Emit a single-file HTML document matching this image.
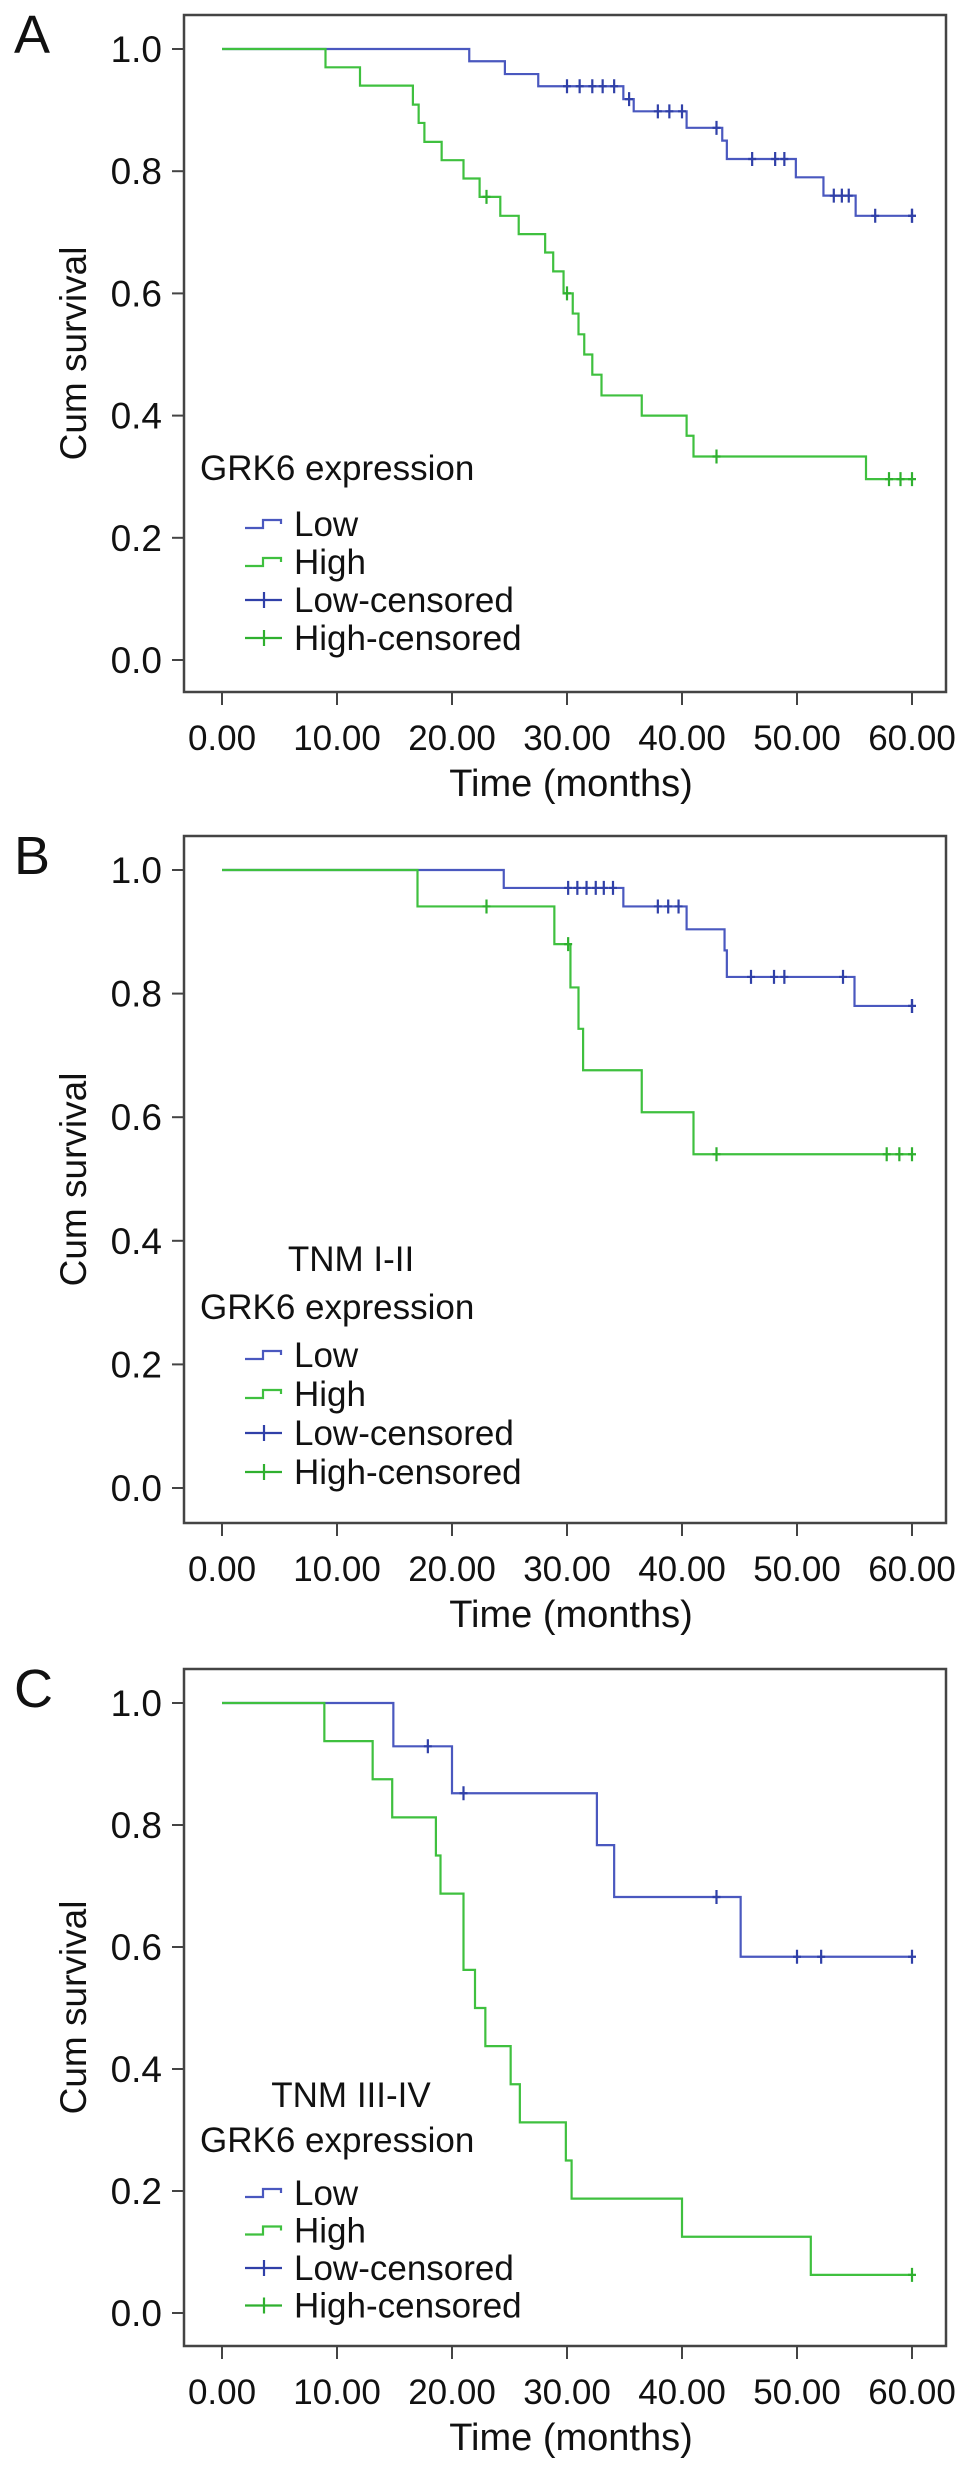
<!DOCTYPE html>
<html><head><meta charset="utf-8"><style>
html,body{margin:0;padding:0;background:#fff;}
svg{display:block;font-family:"Liberation Sans",Arial,sans-serif;}
</style></head><body>
<svg id="fig" width="969" height="2476" viewBox="0 0 969 2476" xmlns="http://www.w3.org/2000/svg"></svg>
<script>
// ---- data ----
const xTicks = [0,10,20,30,40,50,60];
const xTickLabels = ["0.00","10.00","20.00","30.00","40.00","50.00","60.00"];
const yTicks = [0,0.2,0.4,0.6,0.8,1.0];
const yTickLabels = ["0.0","0.2","0.4","0.6","0.8","1.0"];

const aLowT = [21.5,24.6,27.5,34.9,35.8,40.4,43.5,43.9,49.9,52.3,55.1];
const aLowS = [0.98,0.959,0.939,0.918,0.898,0.871,0.85,0.82,0.79,0.76,0.727];
const aLowC = [30,31.1,32.2,33.1,34.1,35.4,37.9,38.9,40,43,46.1,48.1,48.9,53.2,53.9,54.5,56.8,60,60];
const aHighT = [9,12,16.6,17.1,17.6,19.1,21,22.4,24.2,25.8,28.1,28.8,29.7,30.5,31,31.5,32.2,33,36.5,40.4,41,56];
const aHighS = [0.97,0.94,0.909,0.879,0.848,0.818,0.788,0.758,0.727,0.697,0.667,0.636,0.6,0.567,0.533,0.5,0.467,0.433,0.4,0.367,0.333,0.296];
const aHighC = [23,30,43,58,59,60];

const bLowT = [24.5,34.9,40.4,43.7,43.9,55];
const bLowS = [0.971,0.941,0.904,0.87,0.827,0.78];
const bLowC = [30.1,30.9,31.7,32.5,33.2,34,37.9,38.8,39.7,46,48,48.9,54,60,60];
const bHighT = [17,28.9,30.3,31,31.4,36.5,41];
const bHighS = [0.941,0.88,0.81,0.743,0.676,0.608,0.54];
const bHighC = [23,30.1,43,57.8,58.9,60];

const cLowT = [14.9,20,32.6,34.1,45.1];
const cLowS = [0.929,0.852,0.767,0.682,0.584];
const cLowC = [17.9,21,43,50,52.1,60];
const cHighT = [8.9,13.1,14.8,18.6,19,21,22,22.9,25.1,25.9,29.9,30.4,40,51.2];
const cHighS = [0.9375,0.875,0.8125,0.75,0.6875,0.5625,0.5,0.4375,0.375,0.3125,0.25,0.1875,0.125,0.0625];
const cHighC = [60];

const NS = "http://www.w3.org/2000/svg";
const svg = document.getElementById('fig');
const BLUE = "#4a58bf", GREEN = "#3fc03f", BLUEC = "#3040a8", GREENC = "#2fb02f";

function mk(tag, attrs, parent){
  const e = document.createElementNS(NS, tag);
  for (const k in attrs) e.setAttribute(k, attrs[k]);
  (parent||svg).appendChild(e);
  return e;
}

function panel(id, letter, y1px, y0px, boxTop, boxBot, lowT, lowS, lowC, highT, highS, highC, tnm, leg){
  const g = mk('g', {});
  
  
  const x0 = 222, x60 = 912, bl = 184, br = 946;
  const X = t => x0 + (t/60)*(x60-x0);
  const Y = s => y0px - s*(y0px-y1px);

  const lt = mk('text', {x:14, y:boxTop+38, 'font-size':54, fill:'#111'}, g);
  lt.textContent = letter;
  
  

  const box = mk('rect', {x:bl, y:boxTop, width:br-bl, height:boxBot-boxTop, fill:'none', stroke:'#444', 'stroke-width':2.5}, g);
  
  

  yTicks.forEach((v,i)=>{
    const tk = mk('line', {x1:bl-12, x2:bl, y1:Y(v), y2:Y(v), stroke:'#444', 'stroke-width':2}, g);
    
    
    const t = mk('text', {x:bl-22, y:Y(v)+13, 'font-size':37, 'text-anchor':'end', fill:'#111'}, g);
    t.textContent = yTickLabels[i];
    
    
  });
  xTicks.forEach((v,i)=>{
    const tk = mk('line', {x1:X(v), x2:X(v), y1:boxBot, y2:boxBot+13, stroke:'#444', 'stroke-width':2}, g);
    
    
    const t = mk('text', {x:X(v), y:boxBot+58, 'font-size':35, 'text-anchor':'middle', fill:'#111'}, g);
    t.textContent = xTickLabels[i];
    
    
  });
  const xt = mk('text', {x:571, y:boxBot+104, 'font-size':38, 'text-anchor':'middle', fill:'#111'}, g);
  xt.textContent = 'Time (months)';
  
  
  const ymid = (boxTop+boxBot)/2;
  const yt = mk('text', {x:0, y:0, 'font-size':37, 'text-anchor':'middle', fill:'#111', transform:'translate(86,'+ymid+') rotate(-90)'}, g);
  yt.textContent = 'Cum survival';
  
  

  function curve(T, S, C, color, ccolor, name){
    let d = 'M' + X(0) + ' ' + Y(1);
    let s = 1;
    for (let i=0;i<T.length;i++){ d += ' H' + X(T[i]) + ' V' + Y(S[i]); s = S[i]; }
    const last = Math.max(T[T.length-1], C.length?Math.max(...C):0);
    d += ' H' + X(last);
    const p = mk('path', {d:d, fill:'none', stroke:color, 'stroke-width':2.2}, g);
    
    
    C.forEach(c=>{
      let sv = 1;
      for (let i=0;i<T.length;i++){ if (T[i] <= c) sv = S[i]; }
      const m = mk('path', {d:'M'+X(c)+' '+(Y(sv)-7)+' V'+(Y(sv)+7)+' M'+(X(c)-4)+' '+Y(sv)+' H'+(X(c)+4), stroke:ccolor, 'stroke-width':2.2, fill:'none'}, g);
      
      
    });
  }
  curve(lowT, lowS, lowC, BLUE, BLUEC, 'low');
  curve(highT, highS, highC, GREEN, GREENC, 'high');

  // legend
  if (tnm){
    const tt = mk('text', {x:351, y:leg.tnm+12, 'font-size':35, 'text-anchor':'middle', fill:'#111'}, g);
    tt.textContent = tnm;
    
    
  }
  const lg = mk('text', {x:200, y:leg.title+12, 'font-size':35, fill:'#111'}, g);
  lg.textContent = 'GRK6 expression';
  
  
  const entries = [['Low',BLUE,'step'],['High',GREEN,'step'],['Low-censored',BLUEC,'cross'],['High-censored',GREENC,'cross']];
  entries.forEach((en,i)=>{
    const cy = leg.first + i*leg.gap;
    const eg = mk('g', {}, g);
    
    
    let d;
    if (en[2]==='step') d = 'M245 '+(cy+4)+' H263 V'+(cy-4)+' H281 V'+(cy);
    else d = 'M245 '+cy+' H282 M264 '+(cy-8)+' V'+(cy+8);
    mk('path', {d:d, fill:'none', stroke:en[1], 'stroke-width':2.2}, eg);
    const t = mk('text', {x:294, y:cy+12, 'font-size':35, fill:'#111'}, eg);
    t.textContent = en[0];
  });
}

panel('a','A',49,660,15,692,aLowT,aLowS,aLowC,aHighT,aHighS,aHighC,null,{title:468,first:524,gap:38});
panel('b','B',870,1488,836,1523,bLowT,bLowS,bLowC,bHighT,bHighS,bHighC,'TNM I-II',{tnm:1259,title:1307,first:1355,gap:39});
panel('c','C',1703,2313,1669,2346,cLowT,cLowS,cLowC,cHighT,cHighS,cHighC,'TNM III-IV',{tnm:2095,title:2140,first:2193,gap:37.5});
</script>
</body></html>
